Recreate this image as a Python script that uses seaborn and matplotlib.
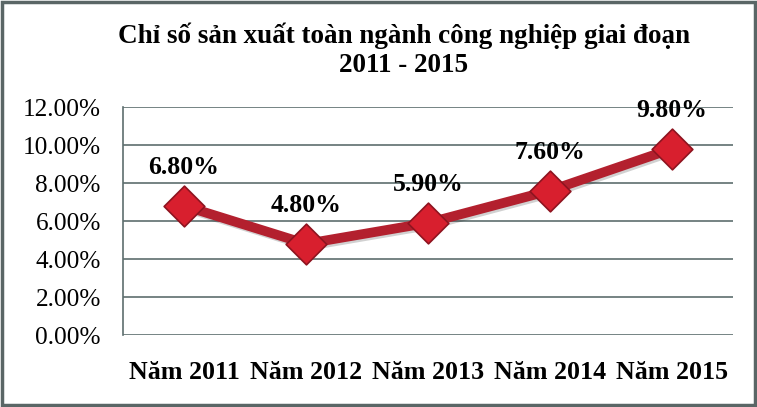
import pandas as pd
import matplotlib.pyplot as plt
import matplotlib.patheffects as pe
from matplotlib.patches import Rectangle
from matplotlib.ticker import FuncFormatter
import seaborn as sns

# Data
years = ['Năm 2011', 'Năm 2012', 'Năm 2013', 'Năm 2014', 'Năm 2015']
index_pct = [6.8, 4.8, 5.9, 7.6, 9.8]

df = pd.DataFrame({'Year': years, 'Index': index_pct})

sns.set_theme(style='white')
plt.rcParams['font.family'] = ['Liberation Serif', 'DejaVu Serif']
plt.rcParams['text.color'] = 'black'

fig, ax = plt.subplots(figsize=(7.57, 4.07), dpi=100)
fig.subplots_adjust(left=123 / 757, right=733 / 757, top=1 - 107 / 407, bottom=1 - 335 / 407)

grid_col = '#5E6E6E'
for v in range(0, 14, 2):
    ax.axhline(v, color=grid_col, lw=1.2, zorder=0)

line_col = '#B3202E'
sns.lineplot(data=df, x='Year', y='Index', ax=ax, color=line_col, lw=7,
             sort=False, zorder=2,
             path_effects=[pe.SimpleLineShadow(offset=(1.5, -1.5), alpha=0.2), pe.Normal()])
sns.scatterplot(data=df, x='Year', y='Index', ax=ax, marker='D', s=430,
                color='#D81F2E', edgecolor='#8E1420', linewidth=1.2, zorder=3)

for i, v in enumerate(index_pct):
    ax.annotate(f'{v:.2f}%', (i, v), xytext=(0, 38), textcoords='offset pixels',
                ha='center', va='center', fontsize=18.5, fontweight='bold', color='black')

ax.set_xlim(-0.5, 4.5)
ax.set_ylim(0, 12)
ax.set_yticks(range(0, 14, 2))
ax.yaxis.set_major_formatter(FuncFormatter(lambda v, p: f'{v:.2f}%'))
ax.tick_params(axis='y', labelsize=18.2, pad=16, length=0, colors='black')
ax.tick_params(axis='x', labelsize=18.7, pad=19, length=0, colors='black')
for lab in ax.get_xticklabels():
    lab.set_fontweight('bold')
ax.set_xlabel('')
ax.set_ylabel('')

for side in ['top', 'right', 'bottom']:
    ax.spines[side].set_visible(False)
ax.spines['left'].set_color(grid_col)
ax.spines['left'].set_linewidth(1.2)

fig.text(404 / 757, 1 - 36 / 407, 'Chỉ số sản xuất toàn ngành công nghiệp giai đoạn',
         ha='center', va='center', fontsize=19.5, fontweight='bold', color='black')
fig.text(404 / 757, 1 - 65 / 407, '2011 - 2015',
         ha='center', va='center', fontsize=19.5, fontweight='bold', color='black')

fig.patches.append(Rectangle((0.003, 0.005), 0.994, 0.99, transform=fig.transFigure,
                             fill=False, edgecolor='#5A6666', lw=2.5))

plt.savefig('out.png', dpi=100)
plt.close()
